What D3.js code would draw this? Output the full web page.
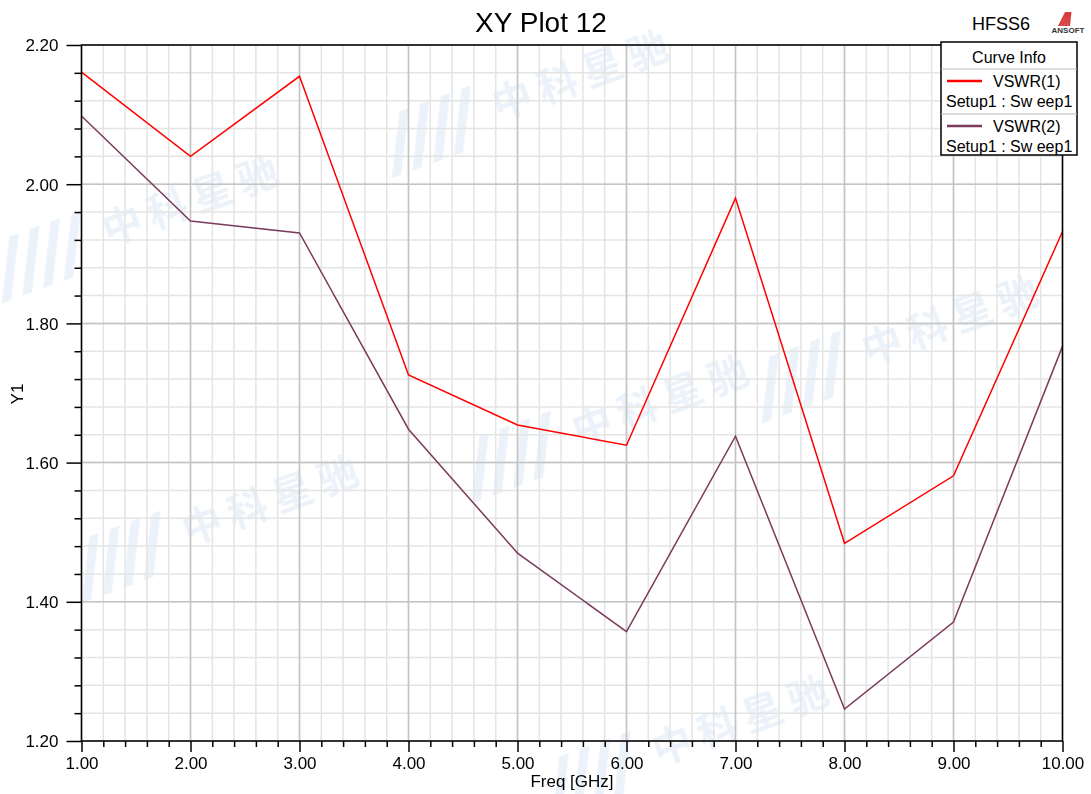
<!DOCTYPE html>
<html><head><meta charset="utf-8">
<script src="https://cdn.jsdelivr.net/npm/d3@7"></script>
<style>body{margin:0;background:#fff;font-family:"Liberation Sans",Arial,sans-serif;}</style>
</head><body>
<svg id="c" width="1091" height="794"></svg>
<script>
const freq = [1,2,3,4,5,6,7,8,9,10];
const vswr1 = [2.161,2.040,2.155,1.726,1.654,1.625,1.980,1.484,1.581,1.932];
const vswr2 = [2.098,1.947,1.930,1.648,1.470,1.357,1.638,1.246,1.371,1.767];
const seriesNames = ["VSWR(1)","VSWR(2)"];
const seriesColors = ["#ff0000","#7b3b5e"];
const setupLabel = "Setup1 : Sw eep1";
const xTicks = [1,2,3,4,5,6,7,8,9,10];
const yTicks = [1.2,1.4,1.6,1.8,2.0,2.2];

const svg = d3.select("#c");
const L=81.5, R=1062.5, T=45, B=741;
const x = d3.scaleLinear().domain([1,10]).range([L,R]);
const y = d3.scaleLinear().domain([1.2,2.2]).range([B,T]);

// watermark
const wm = svg.append("g").attr("fill","#dce7f4").attr("opacity",0.55);
[[170,210],[250,510],[640,410],[720,730],[560,85],[930,330]].forEach(([cx,cy])=>{
  const g = wm.append("g").attr("transform",`translate(${cx},${cy}) rotate(-20)`);
  g.append("text").attr("x",-70).attr("y",12).attr("font-size",40).attr("font-family","Noto Sans CJK SC")
   .attr("font-weight","bold").attr("letter-spacing",8).text("中科星驰");
  for(let i=0;i<4;i++) g.append("path").attr("d",`M${-190+i*22},30 L${-160+i*22},-30 L${-150+i*22},-30 L${-180+i*22},30 Z`);
});

// minor grid
const xMinor = d3.range(1,10.001,0.2);
const yMinor = d3.range(1.2,2.2001,0.04);
const grid = svg.append("g");
grid.selectAll(".xm").data(xMinor).enter().append("line")
  .attr("x1",d=>x(d)).attr("x2",d=>x(d)).attr("y1",T).attr("y2",B).attr("stroke","#e4e4e4").attr("stroke-width",1.5);
grid.selectAll(".ym").data(yMinor).enter().append("line")
  .attr("y1",d=>y(d)).attr("y2",d=>y(d)).attr("x1",L).attr("x2",R).attr("stroke","#e4e4e4").attr("stroke-width",1.5);
grid.selectAll(".xM").data(xTicks).enter().append("line")
  .attr("x1",d=>x(d)).attr("x2",d=>x(d)).attr("y1",T).attr("y2",B).attr("stroke","#c4c4c4").attr("stroke-width",1.5);
grid.selectAll(".yM").data(yTicks).enter().append("line")
  .attr("y1",d=>y(d)).attr("y2",d=>y(d)).attr("x1",L).attr("x2",R).attr("stroke","#c4c4c4").attr("stroke-width",1.5);

// lines
const line = d3.line().x((d,i)=>x(freq[i])).y(d=>y(d));
[vswr1,vswr2].forEach((s,k)=>{
  svg.append("path").attr("d",line(s)).attr("fill","none").attr("stroke",seriesColors[k]).attr("stroke-width",1.5);
});

// frame
svg.append("rect").attr("x",L).attr("y",T).attr("width",R-L).attr("height",B-T).attr("fill","none").attr("stroke","#000").attr("stroke-width",1.5);

// axes
const fmt = d3.format(".2f");
const xAx = svg.append("g").attr("transform",`translate(0,${B})`)
  .call(d3.axisBottom(x).tickValues(xTicks).tickFormat(fmt).tickSize(11).tickPadding(5));
const xAxm = svg.append("g").attr("transform",`translate(0,${B})`)
  .call(d3.axisBottom(x).tickValues(xMinor.filter(v=>Math.abs(v-Math.round(v))>0.01)).tickFormat("").tickSize(6));
const yAx = svg.append("g").attr("transform",`translate(${L},0)`)
  .call(d3.axisLeft(y).tickValues(yTicks).tickFormat(fmt).tickSize(15).tickPadding(8));
const yAxm = svg.append("g").attr("transform",`translate(${L},0)`)
  .call(d3.axisLeft(y).tickValues(yMinor.filter(v=>Math.abs(v*5-Math.round(v*5))>0.01)).tickFormat("").tickSize(7));
[xAx,xAxm,yAx,yAxm].forEach(g=>{
  g.select(".domain").remove();
  g.selectAll("line").attr("stroke","#000").attr("stroke-width",1.5);
  g.selectAll("text").attr("font-size",17).attr("fill","#000").attr("font-family","Liberation Sans, Arial, sans-serif");
});
yAx.selectAll("text").attr("dy","0.35em");

// titles
svg.append("text").attr("x",541).attr("y",32).attr("text-anchor","middle").attr("font-size",28).text("XY Plot 12");
svg.append("text").attr("x",572).attr("y",787).attr("text-anchor","middle").attr("font-size",17).text("Freq [GHz]");
svg.append("text").attr("transform","translate(23,394) rotate(-90)").attr("text-anchor","middle").attr("font-size",17).text("Y1");
svg.append("text").attr("x",972).attr("y",30).attr("font-size",18).text("HFSS6");
// ANSOFT logo
const lg = svg.append("g").attr("transform","translate(1058,10)");
for(let i=0;i<4;i++) lg.append("path").attr("d",`M${i*3},16 L${7+i*1.5},${2+i*0} L${9+i*1.5},2 L${3+i*3},16 Z`).attr("fill","#d02020").attr("opacity",0.85);
lg.append("text").attr("x",10).attr("y",23).attr("text-anchor","middle").attr("font-size",8).attr("font-weight","bold").attr("fill","#333").text("ANSOFT");

// legend
const lgx=941, lgy=42, lgw=136, lgh=113;
const leg = svg.append("g");
leg.append("rect").attr("x",lgx).attr("y",lgy).attr("width",lgw).attr("height",lgh).attr("fill","#fff").attr("stroke","#000").attr("stroke-width",1.5);
leg.append("text").attr("x",lgx+lgw/2).attr("y",lgy+21).attr("text-anchor","middle").attr("font-size",16).text("Curve Info");
leg.append("line").attr("x1",lgx).attr("x2",lgx+lgw).attr("y1",lgy+27).attr("y2",lgy+27).attr("stroke","#bbb");
leg.append("line").attr("x1",lgx).attr("x2",lgx+lgw).attr("y1",lgy+72).attr("y2",lgy+72).attr("stroke","#bbb");
seriesNames.forEach((n,k)=>{
  const oy = lgy+27+k*45;
  leg.append("line").attr("x1",lgx+6).attr("x2",lgx+41).attr("y1",oy+12).attr("y2",oy+12).attr("stroke",seriesColors[k]).attr("stroke-width",2.5);
  leg.append("text").attr("x",lgx+52).attr("y",oy+18).attr("font-size",16).text(n);
  leg.append("text").attr("x",lgx+5).attr("y",oy+38).attr("font-size",16).text(setupLabel);
});
</script>
</body></html>
